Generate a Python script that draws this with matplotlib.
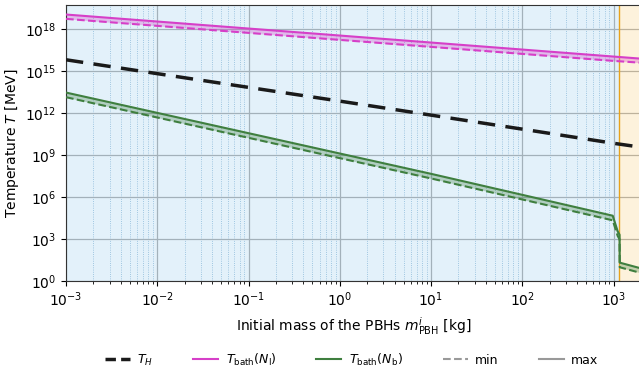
import numpy as np
import matplotlib
matplotlib.use("Agg")
import matplotlib.pyplot as plt
from matplotlib.lines import Line2D

# Values (log10 of temperature in MeV)
mass_H = [1e-3, 1e-2, 1e-1, 1e0, 1e1, 1e2, 1e3, 2e3]
logT_H = [15.79, 14.80, 13.82, 12.84, 11.84, 10.84, 9.83, 9.55]

mass_l = [1e-3, 1e-2, 1e-1, 1e0, 1e1, 1e2, 1e3, 2e3]
logT_l_max = [19.02, 18.52, 18.02, 17.52, 17.02, 16.52, 16.02, 15.87]
logT_l_min = [18.71, 18.21, 17.71, 17.21, 16.71, 16.21, 15.71, 15.58]

mass_b = [1e-3, 1e-2, 1e-1, 1e0, 1e1, 1e2, 980, 1110, 1165, 1170, 2e3]
logT_b_max = [13.45, 12.00, 10.55, 9.10, 7.65, 6.15, 4.66, 3.55, 3.30, 1.31, 0.90]
logT_b_min = [13.12, 11.67, 10.22, 8.77, 7.32, 5.82, 4.33, 3.22, 2.97, 0.98, 0.57]

m_boundary = 1160
xlim = (1e-3, 2e3)
ylim = (1e0, 10**19.7)

col_H = "#1a1a1a"
col_l = "#d63fc8"
col_b = "#3f7f3f"

fig = plt.figure(figsize=(6.39, 3.73), dpi=100)
ax = fig.add_axes([66 / 639, 92 / 373, 575 / 639, 276 / 373])

ax.set_xscale("log")
ax.set_yscale("log")
ax.set_xlim(*xlim)
ax.set_ylim(*ylim)

# shaded regions
ax.axvspan(xlim[0], m_boundary, color="#73b9e6", alpha=0.2, lw=0, zorder=1)
ax.axvspan(m_boundary, xlim[1], color="#f5be50", alpha=0.2, lw=0, zorder=1)
ax.axvline(m_boundary, color="#e8a21c", lw=1.0, zorder=1.2)

# grids
ax.set_axisbelow(True)
ax.grid(True, which="major", color="#b0b0b0", lw=0.9)
ax.xaxis.set_minor_locator(matplotlib.ticker.LogLocator(base=10, subs=np.arange(2, 10), numticks=20))
ax.grid(True, which="minor", axis="x", color="#8fb8d6", lw=0.6, ls=":")
ax.yaxis.set_major_locator(matplotlib.ticker.LogLocator(base=1000, numticks=10))
ax.yaxis.set_minor_locator(matplotlib.ticker.NullLocator())

# T_H
ax.plot(mass_H, 10 ** np.array(logT_H), color=col_H, lw=2.5, ls=(0, (5, 3)), zorder=3)

# T_bath(N_l)
ax.fill_between(mass_l, 10 ** np.array(logT_l_min), 10 ** np.array(logT_l_max),
                color=col_l, alpha=0.3, lw=0, zorder=2)
ax.plot(mass_l, 10 ** np.array(logT_l_max), color=col_l, lw=1.5, zorder=3)
ax.plot(mass_l, 10 ** np.array(logT_l_min), color=col_l, lw=1.5, ls="--", zorder=3)

# T_bath(N_b)
ax.fill_between(mass_b, 10 ** np.array(logT_b_min), 10 ** np.array(logT_b_max),
                color=col_b, alpha=0.3, lw=0, zorder=2)
ax.plot(mass_b, 10 ** np.array(logT_b_max), color=col_b, lw=1.5, zorder=3)
ax.plot(mass_b, 10 ** np.array(logT_b_min), color=col_b, lw=1.5, ls="--", zorder=3)

ax.set_xlabel(r"Initial mass of the PBHs $m^i_{\rm PBH}$ [kg]")
ax.set_ylabel(r"Temperature $T$ [MeV]")
ax.yaxis.set_label_coords(-0.078, 0.5)

for s in ["left", "bottom", "top"]:
    ax.spines[s].set_color("#333333")

handles = [
    Line2D([], [], color=col_H, lw=2.5, ls=(0, (3, 1.5))),
    Line2D([], [], color=col_l, lw=1.5),
    Line2D([], [], color=col_b, lw=1.5),
    Line2D([], [], color="#999999", lw=1.5, ls="--"),
    Line2D([], [], color="#999999", lw=1.5),
]
labels = [r"$T_H$", r"$T_{\rm bath}(N_{\rm l})$", r"$T_{\rm bath}(N_{\rm b})$", "min", "max"]
ax.legend(handles, labels, loc="center", bbox_to_anchor=(0.5 - 2 / 575, -0.285), ncol=5,
          frameon=False, fontsize=9, handlelength=2.0, columnspacing=3.2, handletextpad=0.6)

fig.savefig("out.png", dpi=100)
